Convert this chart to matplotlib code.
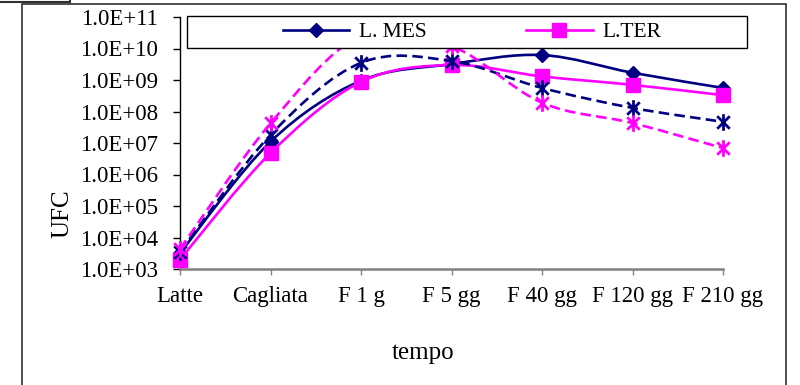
import numpy as np
import matplotlib
matplotlib.use('Agg')
import matplotlib.pyplot as plt
from matplotlib.path import Path
from matplotlib.patches import PathPatch, Rectangle
from matplotlib.lines import Line2D
from matplotlib.ticker import FixedLocator, FuncFormatter, NullLocator

# data (UFC, log scale)
fasi = ['Latte', 'Cagliata', 'F 1 g', 'F 5 gg', 'F 40 gg', 'F 120 gg', 'F 210 gg']
mes_solid = [3.2e3, 1.1e7, 9.5e8, 3.2e9, 6.2e9, 1.7e9, 5.6e8]
ter_solid = [2.0e3, 4.8e6, 8.7e8, 3.0e9, 1.3e9, 7.0e8, 3.3e8]
mes_dash = [3.5e3, 1.8e7, 3.5e9, 4.0e9, 5.6e8, 1.3e8, 4.7e7]
ter_dash = [4.3e3, 4.2e7, 2.5e10, 1.2e10, 1.9e8, 4.3e7, 6.9e6]

NAVY = '#000080'
MAGENTA = '#FF00FF'
SERIF = 'Liberation Serif'


def smooth_path(x, y):
    # Excel-like smoothed line: cubic bezier through the points in (x, log y) space
    lx = np.asarray(x, float)
    ly = np.log10(np.asarray(y, float))
    n = len(lx)
    verts = [(lx[0], ly[0])]
    codes = [Path.MOVETO]
    for i in range(n - 1):
        p0 = np.array([lx[max(i - 1, 0)], ly[max(i - 1, 0)]])
        p1 = np.array([lx[i], ly[i]])
        p2 = np.array([lx[i + 1], ly[i + 1]])
        p3 = np.array([lx[min(i + 2, n - 1)], ly[min(i + 2, n - 1)]])
        c1 = p1 + (p2 - p0) / 6.0
        c2 = p2 - (p3 - p1) / 6.0
        verts += [tuple(c1), tuple(c2), tuple(p2)]
        codes += [Path.CURVE4] * 3
    verts = [(vx, 10 ** vy) for vx, vy in verts]
    return Path(verts, codes)


asterisk = Path([(0, -1), (0, 1), (-0.75, -0.75), (0.75, 0.75), (-0.75, 0.75), (0.75, -0.75)],
                [Path.MOVETO, Path.LINETO, Path.MOVETO, Path.LINETO, Path.MOVETO, Path.LINETO])

fig = plt.figure(figsize=(8, 3.85), dpi=100)
ax = fig.add_axes([180 / 800, 1 - 269 / 385, 543 / 800, 252 / 385])
ax.set_yscale('log')
x = np.arange(len(fasi))

series = [
    (mes_solid, NAVY, '-', 'D', 7.5),
    (ter_solid, MAGENTA, '-', 's', 10.5),
    (mes_dash, NAVY, '--', asterisk, 12),
    (ter_dash, MAGENTA, '--', asterisk, 12),
]
for k, (vals, col, ls, mk, ms) in enumerate(series):
    patch = PathPatch(smooth_path(x, vals), fill=False, edgecolor=col, linewidth=1.9,
                      linestyle=(0, (4, 2)) if ls == '--' else '-', zorder=2 + k)
    ax.add_patch(patch)
    if mk is asterisk:
        ax.plot(x, vals, linestyle='none', marker=mk, markersize=ms, markeredgewidth=2,
                markeredgecolor=col, markerfacecolor='none', clip_on=False, zorder=2.5 + k)
    else:
        ax.plot(x, vals, linestyle='none', marker=mk, markersize=ms, color=col,
                clip_on=False, zorder=2.5 + k)

ax.set_xlim(0, 6)
ax.set_ylim(1e3, 1e11)
ax.set_xticks(x)
ax.set_xticklabels(fasi, fontsize=16.5, family=SERIF)
ax.yaxis.set_major_locator(FixedLocator([10.0 ** e for e in range(3, 12)]))
ax.yaxis.set_minor_locator(NullLocator())
ax.yaxis.set_major_formatter(FuncFormatter(lambda v, p: '1.0E+%02d' % round(np.log10(v))))
for lab in ax.get_yticklabels():
    lab.set_family(SERIF)
    lab.set_fontsize(16.5)
ax.tick_params(axis='y', direction='out', length=5, width=1, pad=11, colors='black')
ax.tick_params(axis='x', direction='out', length=4, width=1, pad=8, color='#808080')
ax.spines['top'].set_visible(False)
ax.spines['right'].set_visible(False)
ax.spines['bottom'].set_color('#808080')
ax.spines['bottom'].set_linewidth(1.8)
ax.spines['left'].set_linewidth(1)
ax.patch.set_alpha(0)

fig.text(62 / 800, 1 - 214 / 385, 'UFC', rotation=90, ha='center', va='center',
         fontsize=18, family=SERIF)
fig.text(423 / 800, 1 - 353 / 385, 'tempo', ha='center', va='center',
         fontsize=18, family=SERIF)

# legend box
fig.add_artist(Rectangle((187 / 800, 1 - 48 / 385), 560 / 800, 32 / 385,
                         transform=fig.transFigure, facecolor='white', edgecolor='black',
                         linewidth=1, zorder=4))
handles = [Line2D([], [], color=NAVY, lw=1.9, marker='D', markersize=7.5),
           Line2D([], [], color=MAGENTA, lw=1.9, marker='s', markersize=9.5)]
leg = fig.legend(handles, ['L. MES', 'L.TER'], loc='center',
                 bbox_to_anchor=(472 / 800, 1 - 32 / 385), ncol=2, frameon=False,
                 handlelength=3.1, handletextpad=0.45, columnspacing=4.6,
                 prop={'family': SERIF, 'size': 15.5})
leg.set_zorder(5)

# outer frame and the stray box at the top left
fig.add_artist(Rectangle((22 / 800, -0.05), 764 / 800, 1.05 - 4 / 385,
                         transform=fig.transFigure, fill=False, edgecolor='#303030',
                         linewidth=1.2, zorder=6))
fig.add_artist(Rectangle((-0.01, 1 - 2 / 385), 78 / 800, 0.02,
                         transform=fig.transFigure, fill=False, edgecolor='#303030',
                         linewidth=1.5, zorder=6))

fig.savefig('out.png', dpi=100)
